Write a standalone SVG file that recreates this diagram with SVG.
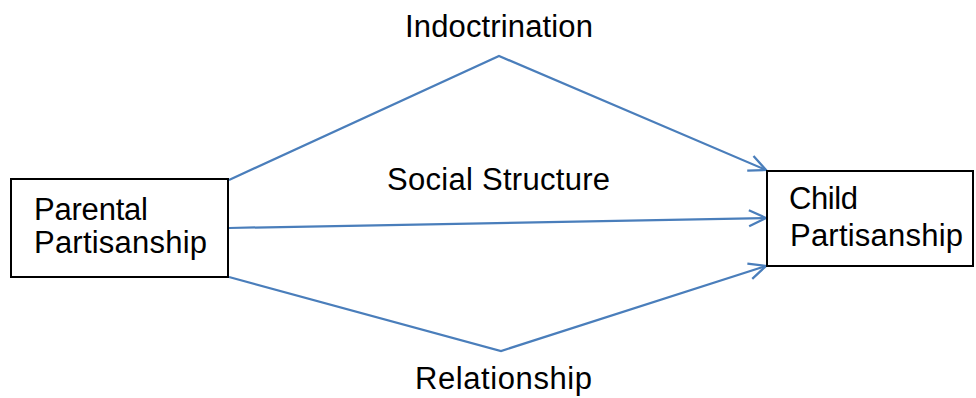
<svg xmlns="http://www.w3.org/2000/svg" width="976" height="398" viewBox="0 0 976 398">
<defs>
<style>
.box{fill:#fff;stroke:#000;stroke-width:2}
.t{font-family:"Liberation Sans",Arial,sans-serif;font-size:31px;fill:#000}
.c{fill:none;stroke:#4a7ebb;stroke-width:2.25}
</style>
<marker id="arr" viewBox="-20 -10 22 20" refX="0" refY="0" markerWidth="22" markerHeight="20" markerUnits="userSpaceOnUse" orient="auto">
<path d="M-17,-8 L0,0 L-17,8" fill="none" stroke="#4a7ebb" stroke-width="2.25"/>
</marker>
</defs>
<rect width="976" height="398" fill="#fff"/>
<g id="connectors">
<polyline class="c" points="229,180 499,56 766,170" marker-end="url(#arr)"/>
<line class="c" x1="229" y1="228" x2="766" y2="218" marker-end="url(#arr)"/>
<polyline class="c" points="229,277 501,351 766,266" marker-end="url(#arr)"/>
</g>
<g id="parental">
<rect class="box" x="11" y="179" width="217" height="98"/>
<text class="t" x="34" y="220" textLength="114">Parental</text>
<text class="t" x="34" y="253" textLength="173">Partisanship</text>
</g>
<g id="child">
<rect class="box" x="767" y="171" width="206" height="95"/>
<text class="t" x="789" y="209" textLength="69">Child</text>
<text class="t" x="790" y="246" textLength="173">Partisanship</text>
</g>
<g id="labels">
<text class="t" x="405" y="37" textLength="188">Indoctrination</text>
<text class="t" x="387" y="190" textLength="223">Social Structure</text>
<text class="t" x="415" y="389" textLength="177">Relationship</text>
</g>
</svg>
